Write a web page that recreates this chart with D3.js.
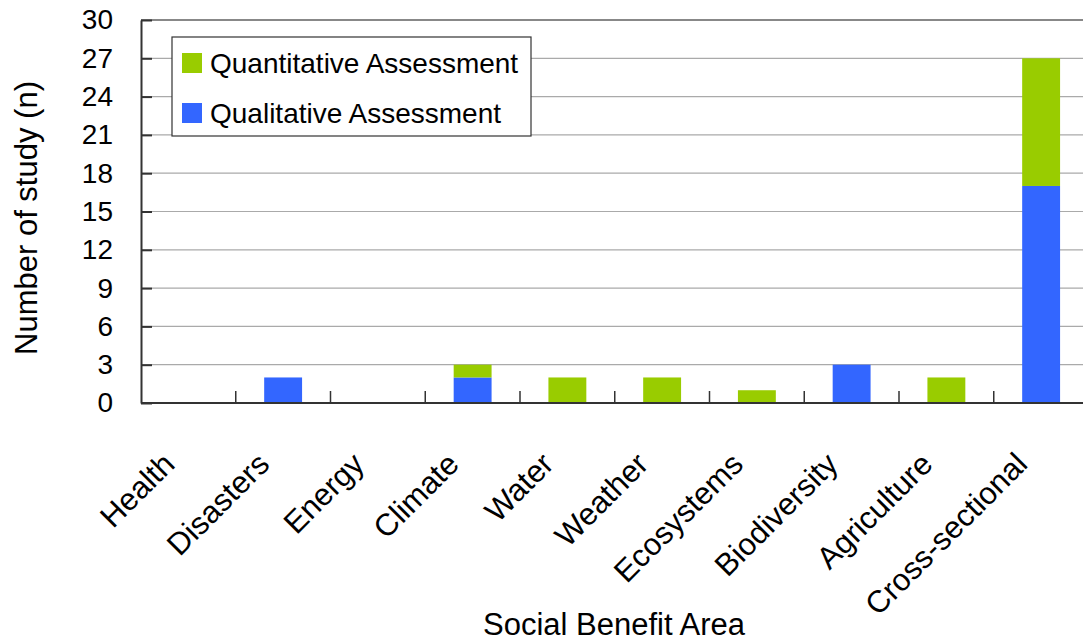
<!DOCTYPE html>
<html>
<head>
<meta charset="utf-8">
<script src="https://d3js.org/d3.v7.min.js"></script>
<style>
  html, body { margin: 0; padding: 0; background: #fff; }
  svg { display: block; font-family: "Liberation Sans", Arial, sans-serif; }
</style>
</head>
<body>
<svg id="chart" width="1083" height="643"></svg>
<script>
// Studies per social benefit area, split by assessment type
const categories = ["Health", "Disasters", "Energy", "Climate", "Water", "Weather",
  "Ecosystems", "Biodiversity", "Agriculture", "Cross-sectional"];
const qualitative = [0, 2, 0, 2, 0, 0, 0, 3, 0, 17];
const quantitative = [0, 0, 0, 1, 2, 2, 1, 0, 2, 10];
const yTicks = [0, 3, 6, 9, 12, 15, 18, 21, 24, 27, 30];
const seriesNames = ["Qualitative Assessment", "Quantitative Assessment"];
const seriesColors = ["#3366ff", "#99cc00"];

const svg = d3.select("#chart");
const plotLeft = 141, plotTop = 20, plotBottom = 403, plotRight = 1088.5;
const tickFont = 28, labelFont = 31;

const x = d3.scaleBand().domain(categories).range([plotLeft, plotRight]).paddingInner(0).paddingOuter(0);
const y = d3.scaleLinear().domain([0, 30]).range([plotBottom, plotTop]);

const rows = categories.map((c, i) => ({ cat: c, q0: qualitative[i], q1: quantitative[i] }));
const stack = d3.stack().keys(["q0", "q1"])(rows);

// Gridlines
svg.append("g").selectAll("line")
  .data(yTicks.filter(t => t > 0))
  .join("line")
  .attr("x1", plotLeft).attr("x2", plotRight)
  .attr("y1", d => y(d)).attr("y2", d => y(d))
  .attr("stroke", d => d === 30 ? "#888" : "#aaa")
  .attr("stroke-width", d => d === 30 ? 2 : 1.2);

// Stacked bars
const barW = x.bandwidth() * 0.4;
svg.append("g").selectAll("g")
  .data(stack)
  .join("g")
  .attr("fill", (d, i) => seriesColors[i])
  .selectAll("rect")
  .data(d => d.filter(s => s[1] - s[0] > 0))
  .join("rect")
  .attr("x", d => x(d.data.cat) + (x.bandwidth() - barW) / 2)
  .attr("width", barW)
  .attr("y", d => y(d[1]))
  .attr("height", d => y(d[0]) - y(d[1]));

// Y axis
const yAxis = d3.axisLeft(y).tickValues(yTicks).tickSizeInner(-11).tickSizeOuter(0).tickPadding(28);
const gy = svg.append("g").attr("transform", `translate(${plotLeft},0)`).call(yAxis);
gy.select(".domain").attr("stroke", "#333").attr("stroke-width", 2);
gy.selectAll(".tick line").attr("stroke", "#333").attr("stroke-width", 2);
gy.selectAll(".tick text").attr("font-size", tickFont).attr("fill", "#000")
  .attr("font-family", "Liberation Sans, Arial, sans-serif");

// X axis baseline and category separators
svg.append("line").attr("x1", plotLeft).attr("x2", plotRight).attr("y1", plotBottom).attr("y2", plotBottom)
  .attr("stroke", "#333").attr("stroke-width", 2);
svg.append("g").selectAll("line")
  .data(categories.slice(1))
  .join("line")
  .attr("x1", d => x(d)).attr("x2", d => x(d))
  .attr("y1", plotBottom).attr("y2", plotBottom - 12)
  .attr("stroke", "#333").attr("stroke-width", 1.5);

// Category labels
svg.append("g").selectAll("text")
  .data(categories)
  .join("text")
  .attr("transform", d => `translate(${x(d) + x.bandwidth() / 2 - 12},${plotBottom + 63}) rotate(-45)`)
  .attr("text-anchor", "end")
  .attr("font-size", labelFont)
  .attr("fill", "#000")
  .text(d => d);

// Axis titles
svg.append("text")
  .attr("transform", `translate(37,218) rotate(-90)`)
  .attr("text-anchor", "middle")
  .attr("font-size", labelFont)
  .text("Number of study (n)");
svg.append("text")
  .attr("x", 614).attr("y", 635)
  .attr("text-anchor", "middle")
  .attr("font-size", labelFont)
  .text("Social Benefit Area");

// Legend
const legend = svg.append("g");
legend.append("rect").attr("x", 172).attr("y", 37).attr("width", 359).attr("height", 99)
  .attr("fill", "#fff").attr("stroke", "#333").attr("stroke-width", 1.2);
const legendItems = [
  { name: seriesNames[1], color: seriesColors[1] },
  { name: seriesNames[0], color: seriesColors[0] }
];
const li = legend.selectAll("g.item").data(legendItems).join("g")
  .attr("transform", (d, i) => `translate(182,${53 + i * 50})`);
li.append("rect").attr("width", 20).attr("height", 20).attr("fill", d => d.color);
li.append("text").attr("x", 28).attr("y", 20).attr("font-size", tickFont).text(d => d.name);
</script>
</body>
</html>
